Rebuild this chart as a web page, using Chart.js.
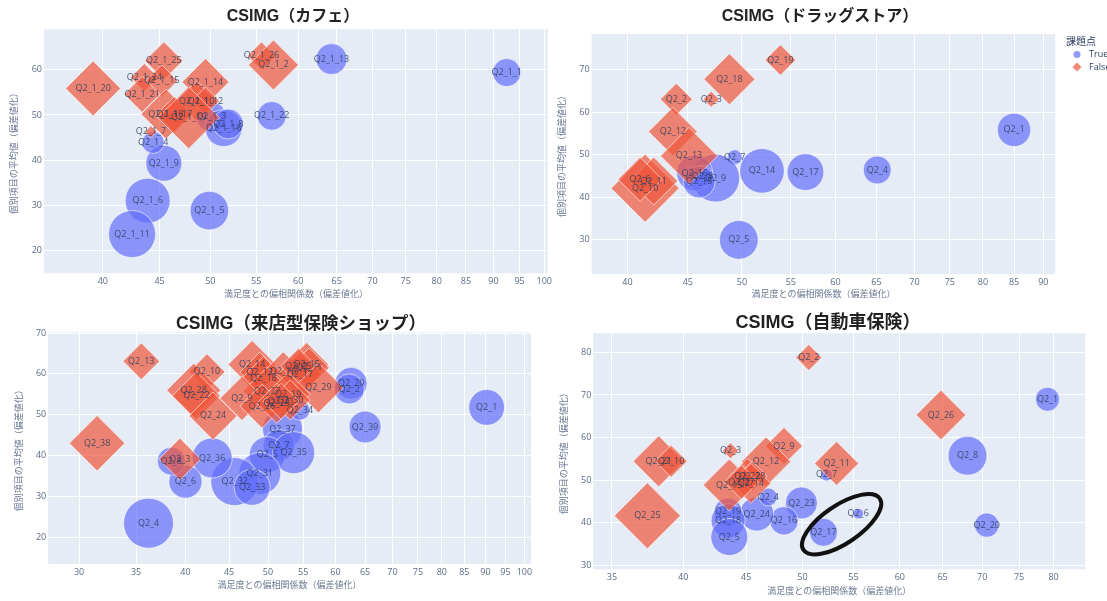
<!DOCTYPE html>
<html>
<head>
<meta charset="utf-8">
<script src="https://cdn.jsdelivr.net/npm/chart.js@4.4.1/dist/chart.umd.min.js"></script>
<style>
  html, body { margin: 0; padding: 0; background: #fff; }
  body { position: relative; width: 1107px; height: 601px; overflow: hidden; }
  canvas { position: absolute; }
</style>
</head>
<body>
<canvas id="cafe" width="555" height="300" style="left:0;top:0"></canvas>
<canvas id="drug" width="552" height="300" style="left:555px;top:0"></canvas>
<canvas id="shop" width="555" height="301" style="left:0;top:300px"></canvas>
<canvas id="car" width="552" height="301" style="left:555px;top:300px"></canvas>
<script>
let blue = 'rgba(99, 110, 250, 0.7)';
let red = 'rgba(239, 85, 59, 0.7)';
let plotBg = '#E5ECF6';
let labelColor = 'rgba(42, 63, 95, 0.85)';
let tickColor = '#5b6b86';
let fontFamily = '"Open Sans", "Noto Sans CJK JP", sans-serif';
let titleFamily = '"Liberation Sans", "Noto Sans CJK JP", sans-serif';

const xTitle = '満足度との偏相関係数（偏差値化）';
const yTitle = '個別項目の平均値（偏差値化）';
const legendTitle = '課題点';

// カフェ
const cafeTrueLabels = ['Q2_1_1', 'Q2_1_13', 'Q2_1_22', 'Q2_1_9', 'Q2_1_6', 'Q2_1_11', 'Q2_1_5', 'Q2_1_4', 'Q2_1_3', 'Q2_1_16', 'Q2_1_8'];
const cafeTrueX = [92.5, 64.3, 56.8, 45.4, 43.9, 42.5, 49.9, 44.4, 50.1, 51.4, 51.9];
const cafeTrueY = [59.4, 62.4, 49.8, 39.3, 31.0, 23.6, 28.8, 43.9, 49.6, 47.1, 48.0];
const cafeTrueSize = [14, 15.5, 14.4, 18, 22.5, 23.5, 19.3, 11, 15, 18.5, 15];
const cafeFalseLabels = ['Q2_1_20', 'Q2_1_25', 'Q2_1_24', 'Q2_1_15', 'Q2_1_21', 'Q2_1_14', 'Q2_1_10', 'Q2_1_12', 'Q2_1_18', 'Q2_1_17', 'Q2_1_19', 'Q2_1_7', 'Q2_1_26', 'Q2_1_2'];
const cafeFalseX = [39.2, 45.4, 43.6, 45.2, 43.4, 49.5, 48.6, 49.5, 45.6, 46.4, 47.8, 44.2, 55.6, 57.0];
const cafeFalseY = [55.9, 62.0, 58.3, 57.6, 54.6, 57.3, 53.1, 53.1, 50.2, 50.1, 49.4, 46.3, 63.1, 61.1];
const cafeFalseSize = [27.5, 19, 14, 16, 18, 23.5, 20, 14, 25, 18, 31, 6, 14, 25];
const cafeXTicks = [40, 45, 50, 55, 60, 65, 70, 75, 80, 85, 90, 95, 100];
const cafeYTicks = [20, 30, 40, 50, 60];

// ドラッグストア
const drugTrueLabels = ['Q2_1', 'Q2_4', 'Q2_17', 'Q2_14', 'Q2_5', 'Q2_7', 'Q2_9', 'Q2_16', 'Q2_8', 'Q2_15'];
const drugTrueX = [85.0, 65.1, 56.6, 52.0, 49.7, 49.3, 47.5, 45.6, 46.3, 46.0];
const drugTrueY = [55.8, 46.4, 45.9, 46.2, 30.0, 49.4, 44.5, 45.7, 45.0, 43.6];
const drugTrueSize = [16.7, 14, 18.4, 22.3, 19.4, 7.5, 24, 18, 11, 16];
const drugFalseLabels = ['Q2_19', 'Q2_18', 'Q2_2', 'Q2_3', 'Q2_12', 'Q2_13', 'Q2_10', 'Q2_11', 'Q2_6'];
const drugFalseX = [53.9, 48.8, 44.0, 47.1, 43.7, 45.1, 41.4, 42.1, 41.0];
const drugFalseY = [72.2, 67.7, 63.0, 63.0, 55.4, 49.7, 42.1, 43.8, 44.2];
const drugFalseSize = [15.3, 25.5, 16, 8, 24.3, 28.5, 34, 24, 22];
const drugXTicks = [40, 45, 50, 55, 60, 65, 70, 75, 80, 85, 90];
const drugYTicks = [30, 40, 50, 60, 70];

// 来店型保険ショップ
const shopTrueLabels = ['Q2_1', 'Q2_39', 'Q2_20', 'Q2_2', 'Q2_37', 'Q2_7', 'Q2_5', 'Q2_35', 'Q2_31', 'Q2_32', 'Q2_33', 'Q2_36', 'Q2_6', 'Q2_8', 'Q2_4', 'Q2_34'];
const shopTrueX = [90.3, 65.0, 62.6, 62.3, 52.0, 51.5, 49.9, 53.6, 48.9, 45.7, 47.9, 43.0, 40.0, 38.5, 36.2, 54.5];
const shopTrueY = [51.8, 47.0, 57.7, 56.3, 46.5, 42.5, 40.2, 40.7, 35.6, 33.6, 32.2, 39.4, 33.6, 38.6, 23.4, 51.1];
const shopTrueSize = [17.9, 16, 16, 15, 20, 16, 18, 21, 21, 24, 18, 20, 16.6, 14, 25, 10];
const shopFalseLabels = ['Q2_13', 'Q2_38', 'Q2_3', 'Q2_10', 'Q2_28', 'Q2_22', 'Q2_24', 'Q2_14', 'Q2_12', 'Q2_18', 'Q2_16', 'Q2_15', 'Q2_11', 'Q2_17', 'Q2_25', 'Q2_29', 'Q2_27', 'Q2_19', 'Q2_30', 'Q2_9', 'Q2_26', 'Q2_23', 'Q2_21'];
const shopFalseX = [35.5, 31.5, 39.4, 42.4, 40.9, 41.2, 43.1, 47.9, 48.9, 49.4, 52.1, 55.5, 55.9, 54.5, 54.3, 57.3, 49.9, 52.8, 53.1, 46.6, 49.2, 51.2, 51.8];
const shopFalseY = [63.1, 43.0, 39.1, 60.5, 56.0, 54.6, 49.7, 62.3, 60.4, 58.9, 60.5, 62.3, 61.5, 59.9, 61.9, 56.6, 55.8, 55.0, 53.6, 54.0, 52.1, 52.8, 53.3];
const shopFalseSize = [18.3, 27.7, 21, 18, 27, 24, 24, 24, 20, 22, 20, 22, 20, 22, 18, 25, 24, 22, 20, 22, 22, 20, 18];
const shopXTicks = [30, 35, 40, 45, 50, 55, 60, 65, 70, 75, 80, 85, 90, 95, 100];
const shopYTicks = [20, 30, 40, 50, 60, 70];

// 自動車保険
const carTrueLabels = ['Q2_1', 'Q2_8', 'Q2_20', 'Q2_6', 'Q2_17', 'Q2_7', 'Q2_23', 'Q2_16', 'Q2_24', 'Q2_4', 'Q2_19', 'Q2_18', 'Q2_5'];
const carTrueX = [79.1, 68.1, 70.6, 55.5, 52.0, 52.3, 49.9, 48.3, 45.9, 46.9, 43.5, 43.5, 43.6];
const carTrueY = [69.0, 55.7, 39.4, 42.1, 37.7, 51.2, 44.6, 40.4, 42.0, 46.0, 42.5, 40.4, 36.6];
const carTrueSize = [12, 19.4, 12.2, 5.3, 14, 6, 16, 14.2, 17, 9, 14, 17, 18.5];
const carFalseLabels = ['Q2_2', 'Q2_26', 'Q2_11', 'Q2_9', 'Q2_12', 'Q2_3', 'Q2_13', 'Q2_22', 'Q2_28', 'Q2_14', 'Q2_27', 'Q2_21', 'Q2_10', 'Q2_25'];
const carFalseX = [50.6, 64.8, 53.3, 48.3, 46.7, 43.7, 43.6, 45.1, 45.5, 45.4, 44.6, 38.2, 39.1, 37.4];
const carFalseY = [78.8, 65.3, 53.9, 58.0, 54.3, 56.9, 48.8, 50.9, 50.9, 49.2, 49.5, 54.4, 54.4, 41.6];
const carFalseSize = [13, 24.8, 22, 18.6, 24.7, 8, 26, 18, 15, 20, 17, 25.5, 16, 33];
const carXTicks = [35, 40, 45, 50, 55, 60, 65, 70, 75, 80];
const carYTicks = [30, 40, 50, 60, 70, 80];

function points(xs, ys, sizes) {
  return xs.map((x, i) => ({ x: x, y: ys[i], r: sizes[i] }));
}

// plot background
const plotBackground = {
  id: 'plotBackground',
  beforeDraw(chart) {
    const a = chart.chartArea;
    chart.ctx.save();
    chart.ctx.fillStyle = plotBg;
    chart.ctx.fillRect(a.left, a.top, a.right - a.left, a.bottom - a.top);
    chart.ctx.restore();
  }
};

// text on every marker
const pointLabels = {
  id: 'pointLabels',
  afterDatasetsDraw(chart) {
    const ctx = chart.ctx;
    ctx.save();
    ctx.font = '9px ' + fontFamily;
    ctx.fillStyle = labelColor;
    ctx.textAlign = 'center';
    ctx.textBaseline = 'middle';
    chart.data.datasets.forEach((ds, i) => {
      chart.getDatasetMeta(i).data.forEach((pt, j) => {
        ctx.fillText(ds.labels[j], pt.x, pt.y);
      });
    });
    ctx.restore();
  }
};

// title, legend, hand-drawn ellipse
const overlay = {
  id: 'overlay',
  afterDraw(chart, args, opts) {
    const ctx = chart.ctx;
    ctx.save();
    ctx.fillStyle = '#222';
    ctx.font = 'bold ' + opts.titleSize + 'px ' + titleFamily;
    ctx.textAlign = 'center';
    ctx.textBaseline = 'middle';
    ctx.fillText(opts.title, opts.titleX, opts.titleY);

    if (opts.legend) {
      const lx = opts.legendX, ly = opts.legendY;
      ctx.textAlign = 'left';
      ctx.font = '10px ' + fontFamily;
      ctx.fillStyle = '#2a3f5f';
      ctx.fillText(legendTitle, lx, ly);
      chart.data.datasets.forEach((ds, i) => {
        const y = ly + 12.5 + i * 12.5;
        ctx.beginPath();
        if (ds.pointStyle === 'rectRot') {
          ctx.moveTo(lx + 11 - 4.5, y);
          ctx.lineTo(lx + 11, y - 4.5);
          ctx.lineTo(lx + 11 + 4.5, y);
          ctx.lineTo(lx + 11, y + 4.5);
          ctx.closePath();
        } else {
          ctx.arc(lx + 11, y, 3.5, 0, Math.PI * 2);
        }
        ctx.fillStyle = ds.backgroundColor;
        ctx.fill();
        ctx.fillStyle = '#2a3f5f';
        ctx.font = '9px ' + fontFamily;
        ctx.fillText(ds.label, lx + 23, y);
      });
    }

    if (opts.ellipse) {
      const e = opts.ellipse;
      const cx = chart.scales.x.getPixelForValue(e.x);
      const cy = chart.scales.y.getPixelForValue(e.y);
      ctx.beginPath();
      ctx.ellipse(cx, cy, e.rx, e.ry, e.rot, 0, Math.PI * 2);
      ctx.lineWidth = 4;
      ctx.strokeStyle = '#111';
      ctx.stroke();
    }
    ctx.restore();
  }
};

function createBubbleChart(id, cfg) {
  const el = document.getElementById(id);
  const w = el.width, h = el.height, a = cfg.area;
  const axisFont = { family: fontFamily, size: 9 };
  return new Chart(el, {
    type: 'bubble',
    data: {
      datasets: [{
        label: 'True',
        labels: cfg.trueLabels,
        data: points(cfg.trueX, cfg.trueY, cfg.trueSize),
        backgroundColor: blue,
        borderColor: 'rgba(255, 255, 255, 0.6)',
        borderWidth: 1,
        pointStyle: 'circle',
        order: 2
      }, {
        label: 'False',
        labels: cfg.falseLabels,
        data: points(cfg.falseX, cfg.falseY, cfg.falseSize),
        backgroundColor: red,
        borderColor: 'rgba(255, 255, 255, 0.6)',
        borderWidth: 1,
        pointStyle: 'rectRot',
        order: 1
      }]
    },
    options: {
      responsive: false,
      animation: false,
      events: [],
      layout: {
        autoPadding: false,
        padding: { left: 0, top: a.top, right: w - a.right, bottom: 0 }
      },
      plugins: {
        legend: { display: false },
        tooltip: { enabled: false },
        overlay: cfg.overlay
      },
      scales: {
        x: {
          type: 'logarithmic',
          bounds: 'data',
          min: cfg.xMin,
          max: cfg.xMax,
          afterBuildTicks: s => { s.ticks = cfg.xTicks.map(v => ({ value: v })); },
          afterFit: s => { s.height = h - a.bottom; },
          grid: { color: '#ffffff', lineWidth: 1, drawTicks: false },
          border: { display: false },
          ticks: { color: tickColor, font: axisFont, padding: 3, autoSkip: false, maxRotation: 0, callback: v => v },
          title: { display: true, text: xTitle, color: '#6b7891', font: axisFont, padding: { top: 0, bottom: cfg.xTitlePad } }
        },
        y: {
          bounds: 'data',
          min: cfg.yMin,
          max: cfg.yMax,
          afterBuildTicks: s => { s.ticks = cfg.yTicks.map(v => ({ value: v })); },
          afterFit: s => { s.width = a.left; },
          grid: { color: '#ffffff', lineWidth: 1, drawTicks: false },
          border: { display: false },
          ticks: { color: tickColor, font: axisFont, padding: 2 },
          title: { display: true, text: yTitle, color: '#6b7891', font: axisFont, padding: { top: cfg.yTitlePad, bottom: 0 } }
        }
      }
    },
    plugins: [plotBackground, pointLabels, overlay]
  });
}

createBubbleChart('cafe', {
  trueLabels: cafeTrueLabels, trueX: cafeTrueX, trueY: cafeTrueY, trueSize: cafeTrueSize,
  falseLabels: cafeFalseLabels, falseX: cafeFalseX, falseY: cafeFalseY, falseSize: cafeFalseSize,
  xTicks: cafeXTicks, yTicks: cafeYTicks,
  xMin: 35.4, xMax: 100.75, yMin: 14.9, yMax: 69.0,
  area: { left: 44, top: 29.3, right: 550, bottom: 273.3 },
  xTitlePad: 0, yTitlePad: 9,
  overlay: { title: 'CSIMG（カフェ）', titleSize: 16, titleX: 293, titleY: 17 }
});

createBubbleChart('drug', {
  trueLabels: drugTrueLabels, trueX: drugTrueX, trueY: drugTrueY, trueSize: drugTrueSize,
  falseLabels: drugFalseLabels, falseX: drugFalseX, falseY: drugFalseY, falseSize: drugFalseSize,
  xTicks: drugXTicks, yTicks: drugYTicks,
  xMin: 37.3, xMax: 92.1, yMin: 22.0, yMax: 78.3,
  area: { left: 36.6, top: 34, right: 500.2, bottom: 274 },
  xTitlePad: 0, yTitlePad: 2,
  overlay: { title: 'CSIMG（ドラッグストア）', titleSize: 16, titleX: 265, titleY: 17, legend: true, legendX: 511, legendY: 42 }
});

createBubbleChart('shop', {
  trueLabels: shopTrueLabels, trueX: shopTrueX, trueY: shopTrueY, trueSize: shopTrueSize,
  falseLabels: shopFalseLabels, falseX: shopFalseX, falseY: shopFalseY, falseSize: shopFalseSize,
  xTicks: shopXTicks, yTicks: shopYTicks,
  xMin: 27.6, xMax: 101.8, yMin: 13.4, yMax: 70.2,
  area: { left: 48.2, top: 32.3, right: 531, bottom: 264 },
  xTitlePad: 10.6, yTitlePad: 14,
  overlay: { title: 'CSIMG（来店型保険ショップ）', titleSize: 17.5, titleX: 301, titleY: 24 }
});

createBubbleChart('car', {
  trueLabels: carTrueLabels, trueX: carTrueX, trueY: carTrueY, trueSize: carTrueSize,
  falseLabels: carFalseLabels, falseX: carFalseX, falseY: carFalseY, falseSize: carFalseSize,
  xTicks: carXTicks, yTicks: carYTicks,
  xMin: 33.8, xMax: 84.9, yMin: 29.0, yMax: 84.5,
  area: { left: 38.3, top: 33.3, right: 530.3, bottom: 269.3 },
  xTitlePad: 4.6, yTitlePad: 3.8,
  overlay: { title: 'CSIMG（自動車保険）', titleSize: 18, titleX: 273, titleY: 23,
    ellipse: { x: 53.8, y: 39.6, rx: 46, ry: 19, rot: -34 * Math.PI / 180 } }
});
</script>
</body>
</html>
